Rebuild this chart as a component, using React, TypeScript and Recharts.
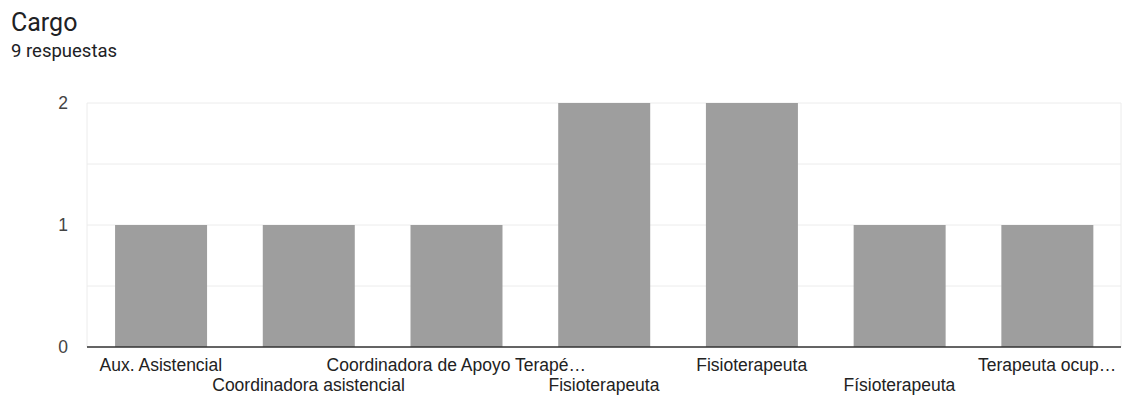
import { BarChart, Bar, XAxis, YAxis, CartesianGrid } from 'recharts';

const categories = [
  'Aux. Asistencial',
  'Coordinadora asistencial',
  'Coordinadora de Apoyo Terapé…',
  'Fisioterapeuta',
  'Fisioterapeuta',
  'Físioterapeuta',
  'Terapeuta ocup…',
];
const counts = [1, 1, 1, 2, 2, 1, 1];
const yTicks = [0, 0.5, 1, 1.5, 2];

const data = categories.map((name, i) => ({ name, value: counts[i] }));

const labelFont = '"Liberation Sans", Arial, sans-serif';

// etiquetas del eje X alternadas en dos filas
const XTick = (props: any) => {
  const { x, y, payload, index } = props;
  return (
    <text
      x={x}
      y={y + (index % 2 === 0 ? 16 : 36)}
      textAnchor="middle"
      fill="#222"
      fontSize={17.5}
      fontFamily={labelFont}
    >
      {payload.value}
    </text>
  );
};

const YTick = (props: any) => {
  const { x, y, payload } = props;
  if (!Number.isInteger(payload.value)) return <g />;
  return (
    <text
      x={x - 11}
      y={y}
      dy="0.35em"
      textAnchor="end"
      fill="#444"
      fontSize={17.5}
      fontFamily={labelFont}
    >
      {payload.value}
    </text>
  );
};

export default function App() {
  return (
    <div
      style={{
        position: 'absolute',
        left: 0,
        top: 0,
        width: 1123,
        height: 395,
        background: '#fff',
        overflow: 'hidden',
      }}
    >
      <div
        style={{
          position: 'absolute',
          left: 11,
          top: 8,
          fontFamily: 'Roboto, sans-serif',
          fontSize: 25,
          color: '#202124',
          lineHeight: '30px',
        }}
      >
        Cargo
      </div>
      <div
        style={{
          position: 'absolute',
          left: 11,
          top: 40,
          fontFamily: 'Roboto, sans-serif',
          fontSize: 18.5,
          color: '#202124',
          lineHeight: '22px',
        }}
      >
        9 respuestas
      </div>
      <BarChart
        width={1123}
        height={395}
        data={data}
        margin={{ top: 103, right: 2, bottom: 0, left: 0 }}
        barCategoryGap="19%"
      >
        <CartesianGrid
          stroke="#ececec"
          verticalCoordinatesGenerator={({ offset }: any) => [
            offset.left,
            offset.left + offset.width,
          ]}
        />
        <XAxis
          dataKey="name"
          height={48}
          interval={0}
          tickLine={false}
          axisLine={{ stroke: '#333', strokeWidth: 1.5 }}
          tick={<XTick />}
        />
        <YAxis
          width={87}
          domain={[0, 2]}
          ticks={yTicks}
          axisLine={false}
          tickLine={false}
          tick={<YTick />}
        />
        <Bar dataKey="value" fill="#9e9e9e" isAnimationActive={false} />
      </BarChart>
    </div>
  );
}
